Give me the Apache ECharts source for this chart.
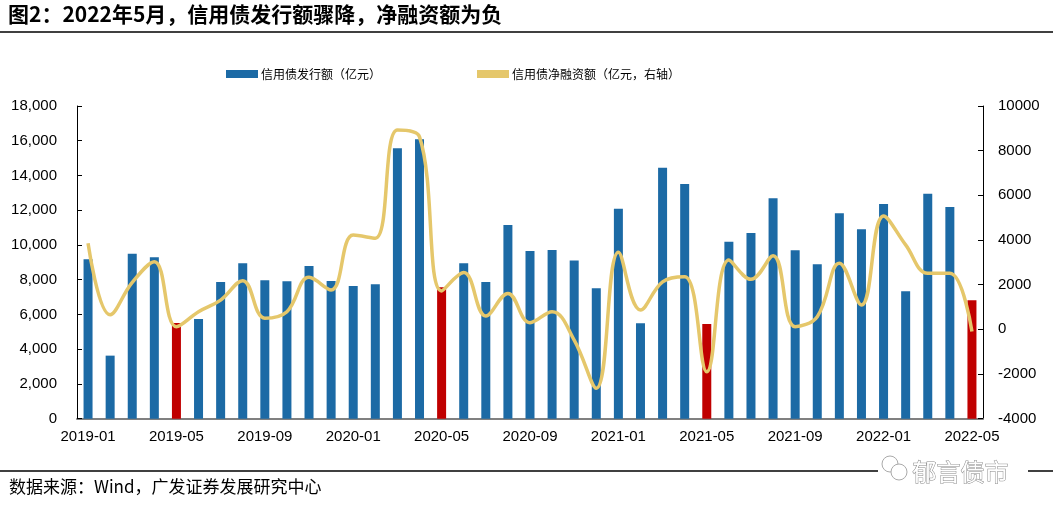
<!DOCTYPE html>
<html>
<head>
<meta charset="utf-8">
<script src="https://cdn.jsdelivr.net/npm/echarts@6/dist/echarts.min.js"></script>
<style>
html,body{margin:0;padding:0;background:#fff;}
#c{width:1053px;height:516px;}
</style>
</head>
<body>
<div id="c"></div>
<script>
// ---- data ----
var categories = [
  '2019-01','2019-02','2019-03','2019-04','2019-05','2019-06','2019-07','2019-08','2019-09','2019-10','2019-11','2019-12',
  '2020-01','2020-02','2020-03','2020-04','2020-05','2020-06','2020-07','2020-08','2020-09','2020-10','2020-11','2020-12',
  '2021-01','2021-02','2021-03','2021-04','2021-05','2021-06','2021-07','2021-08','2021-09','2021-10','2021-11','2021-12',
  '2022-01','2022-02','2022-03','2022-04','2022-05'
];
var issuance = [
  9180, 3630, 9500, 9290, 5510, 5740, 7870, 8950, 7970, 7910, 8790, 7930,
  7640, 7740, 15570, 16080, 7560, 8950, 7870, 11150, 9650, 9710, 9100, 7510,
  12090, 5490, 14450, 13510, 5450, 10190, 10690, 12690, 9690, 8890, 11820, 10900,
  12360, 7330, 12950, 12190, 6820
];
var netFinancing = [
  3850, 650, 2100, 3030, 120, 790, 1310, 2180, 500, 790, 2330, 1760,
  4220, 4080, 8920, 8620, 1720, 2540, 600, 1610, 300, 790, -480, -2640,
  3450, 870, 2130, 2360, -1900, 3100, 2240, 3290, 120, 570, 2960, 1090,
  5080, 3780, 2510, 2510, -100
];
var leftTicks = [0, 2000, 4000, 6000, 8000, 10000, 12000, 14000, 16000, 18000];
var rightTicks = [-4000, -2000, 0, 2000, 4000, 6000, 8000, 10000];
var seriesNames = ['信用债发行额（亿元）', '信用债净融资额（亿元，右轴）'];
var titleText = '图2：2022年5月，信用债发行额骤降，净融资额为负';
var sourceText = '数据来源：Wind，广发证券发展研究中心';
var watermarkText = '郁言债市';

var BLUE = '#1c6aa5', RED = '#c00000', GOLD = '#e5c76b';
var FONT = '"Liberation Sans", Arial, "Noto Sans CJK SC", sans-serif';
var CJK = '"Noto Sans CJK SC", "Liberation Sans", sans-serif';

var chart = echarts.init(document.getElementById('c'), null, {renderer: 'canvas'});

function fmtThousands(v) {
  return String(v).replace(/\B(?=(\d{3})+(?!\d))/g, ',');
}

var option = {
  animation: false,
  backgroundColor: '#fff',
  grid: {left: 77, right: 70, top: 106, bottom: 97.3, containLabel: false},
  legend: {
    top: 63,
    left: 221,
    itemGap: 96,
    itemWidth: 32,
    itemHeight: 8,
    textStyle: {fontFamily: CJK, fontSize: 12, color: '#000', padding: [0, 0, 0, -2]},
    data: [
      {name: seriesNames[0], icon: 'rect', itemStyle: {color: BLUE}},
      {name: seriesNames[1], icon: 'rect', itemStyle: {color: GOLD}}
    ]
  },
  xAxis: {
    type: 'category',
    data: categories,
    boundaryGap: true,
    axisLine: {show: true, lineStyle: {color: '#808080', width: 2}},
    axisTick: {show: false},
    axisLabel: {
      interval: 3,
      margin: 11,
      fontFamily: FONT,
      fontSize: 15,
      color: '#000'
    }
  },
  yAxis: [
    {
      type: 'value',
      min: 0, max: 18000, interval: 2000,
      axisLine: {show: true, lineStyle: {color: '#000', width: 1}},
      axisTick: {show: true, inside: true, length: 5, lineStyle: {color: '#000'}},
      splitLine: {show: false},
      axisLabel: {
        margin: 20, fontFamily: FONT, fontSize: 15, color: '#000',
        formatter: function (v) { return leftTicks.indexOf(v) >= 0 ? fmtThousands(v) : ''; }
      }
    },
    {
      type: 'value',
      min: -4000, max: 10000, interval: 2000,
      position: 'right',
      axisLine: {show: true, lineStyle: {color: '#000', width: 1}},
      axisTick: {show: true, inside: true, length: 5, lineStyle: {color: '#000'}},
      splitLine: {show: false},
      axisLabel: {
        margin: 15, fontFamily: FONT, fontSize: 15, color: '#000',
        formatter: function (v) { return rightTicks.indexOf(v) >= 0 ? String(v) : ''; }
      }
    }
  ],
  series: [
    {
      name: seriesNames[0],
      type: 'bar',
      yAxisIndex: 0,
      barWidth: 9,
      itemStyle: {
        color: function (p) { return /-05$/.test(categories[p.dataIndex]) ? RED : BLUE; }
      },
      data: issuance,
      z: 2
    },
    {
      name: seriesNames[1],
      type: 'line',
      yAxisIndex: 1,
      smooth: 0.4,
      showSymbol: false,
      symbol: 'none',
      lineStyle: {color: GOLD, width: 3.5},
      itemStyle: {color: GOLD},
      data: netFinancing,
      z: 3
    }
  ],
  graphic: [
    {
      type: 'text', left: 8, top: 4,
      style: {text: titleText, font: 'bold 21px ' + CJK, fill: '#000'}
    },
    {
      type: 'line', shape: {x1: 0, y1: 32, x2: 1053, y2: 32},
      style: {stroke: '#000', lineWidth: 1.5}
    },
    {
      type: 'line', shape: {x1: 0, y1: 471, x2: 1053, y2: 471},
      style: {stroke: '#000', lineWidth: 1.5}
    },
    {
      type: 'text', left: 9, top: 478,
      style: {text: sourceText, font: '17px ' + CJK, fill: '#000'}
    },
    {
      type: 'rect', shape: {x: 878, y: 460, width: 150, height: 24},
      style: {fill: '#fff'}
    },
    {
      type: 'circle', shape: {cx: 890, cy: 464, r: 8},
      style: {fill: '#fff', stroke: '#aaa', lineWidth: 1}
    },
    {
      type: 'circle', shape: {cx: 899, cy: 472, r: 8},
      style: {fill: '#fff', stroke: '#aaa', lineWidth: 1}
    },
    {
      type: 'text', left: 912, top: 459,
      style: {text: watermarkText, font: '24px ' + CJK, fill: '#fff', stroke: '#888', lineWidth: 1}
    }
  ]
};
chart.setOption(option);
</script>
</body>
</html>
